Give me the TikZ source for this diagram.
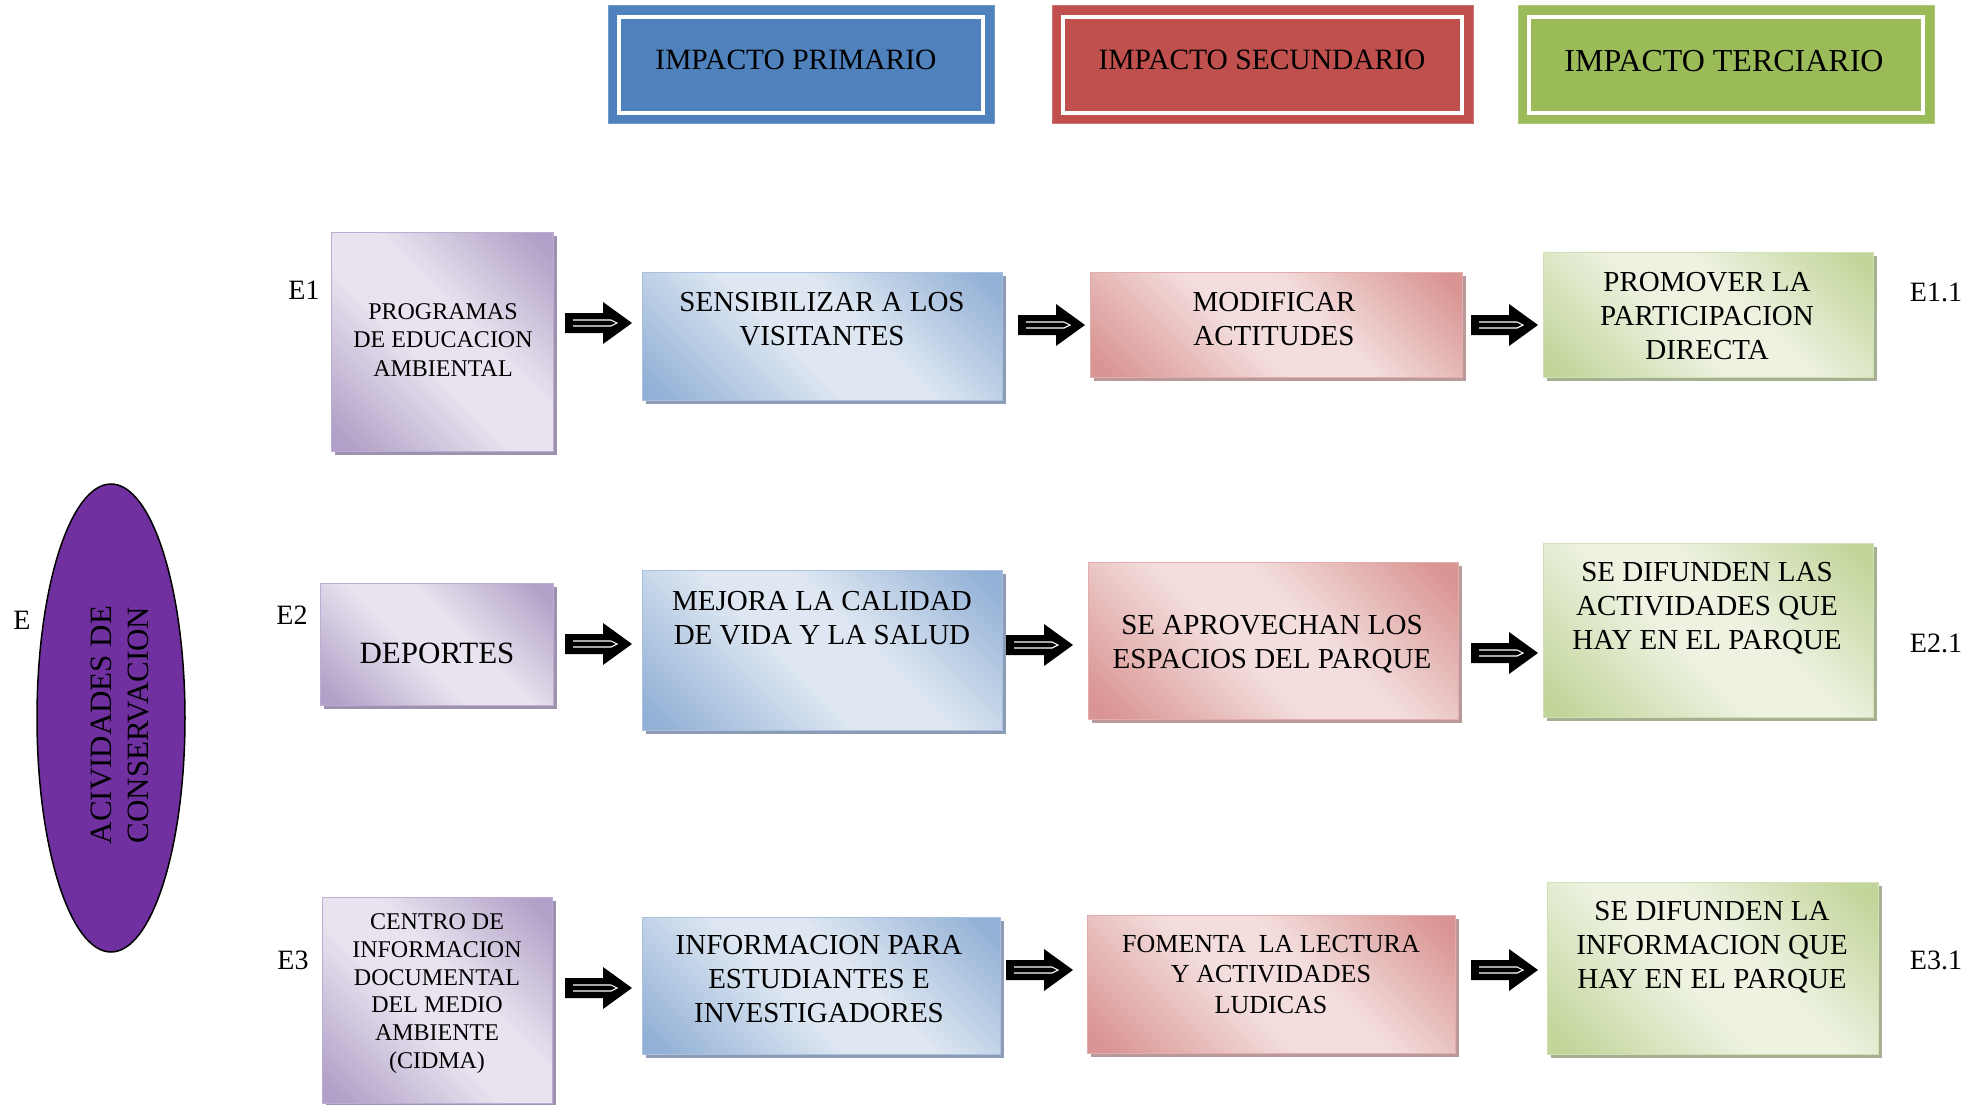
\documentclass[tikz,border=0pt]{standalone}
\usepackage{fontspec}
\setmainfont{Liberation Serif}
\usetikzlibrary{shapes.geometric,shadows}
\definecolor{hblue}{HTML}{4F81BD}
\definecolor{hred}{HTML}{C0504D}
\definecolor{hgreen}{HTML}{9BBB59}
\definecolor{ellcol}{HTML}{7030A0}
\definecolor{purD}{HTML}{B1A0C7}\definecolor{purL}{HTML}{E8E3EF}\definecolor{purB}{HTML}{BCAED2}\definecolor{purS}{HTML}{9D93AE}
\definecolor{bluD}{HTML}{93B1D6}\definecolor{bluL}{HTML}{DEE7F2}\definecolor{bluB}{HTML}{A9C0DE}\definecolor{bluS}{HTML}{8B9CB4}
\definecolor{redD}{HTML}{D99593}\definecolor{redL}{HTML}{F3DEDD}\definecolor{redB}{HTML}{E2ADAC}\definecolor{redS}{HTML}{B89A9A}
\definecolor{grnD}{HTML}{C2D59A}\definecolor{grnL}{HTML}{EDF2E1}\definecolor{grnB}{HTML}{D2E1B4}\definecolor{grnS}{HTML}{A6AF92}
\pgfdeclareverticalshading{purshade}{100bp}{color(0bp)=(purD); color(18bp)=(purD); color(44bp)=(purL); color(57bp)=(purL); color(82bp)=(purD); color(100bp)=(purD)}
\pgfdeclareverticalshading{blushade}{100bp}{color(0bp)=(bluD); color(18bp)=(bluD); color(44bp)=(bluL); color(57bp)=(bluL); color(82bp)=(bluD); color(100bp)=(bluD)}
\pgfdeclareverticalshading{redshade}{100bp}{color(0bp)=(redD); color(18bp)=(redD); color(44bp)=(redL); color(57bp)=(redL); color(82bp)=(redD); color(100bp)=(redD)}
\pgfdeclareverticalshading{grnshade}{100bp}{color(0bp)=(grnD); color(18bp)=(grnD); color(44bp)=(grnL); color(57bp)=(grnL); color(82bp)=(grnD); color(100bp)=(grnD)}
\newcommand{\mybox}[6]{%
  \node[#1, minimum width={#5-#3}, minimum height={#6-#4}] (#2) at ({(#3+#5)/2},{(#4+#6)/2}) {};}
\begin{document}
\begin{tikzpicture}[x=1pt,y=-1pt,
  colbox/.style={draw=#1B, line width=1, inner sep=0,
    shade, shading=#1shade, shading angle=-45,
    drop shadow={shadow xshift=4pt, shadow yshift=-4pt, fill=#1S, opacity=1}},
  hdr/.style={fill=#1, draw=#1!80!white, line width=1, inner sep=0},
  txt/.style={align=center, inner sep=0, text depth=0pt, font=\fontsize{29}{34}\selectfont},
  lab/.style={inner sep=0, text depth=0pt, font=\fontsize{28}{32}\selectfont},
  blk/.pic={
    \fill[black] (0,-10) -- (38,-10) -- (38,-21) -- (67,0) -- (38,21) -- (38,10) -- (0,10) -- cycle;
    \draw[white, line width=1.1] (8,-3) -- (46,-3) -- (52,0) -- (46,3) -- (8,3);
  }]
\useasboundingbox (0,0) rectangle (1988,1105);
\fill[white] (0,0) rectangle (1988,1105);

% headers
\mybox{hdr=hblue}{h1}{608}{6}{994}{124}
\mybox{hdr=hred}{h2}{1052}{6}{1473}{124}
\mybox{hdr=hgreen}{h3}{1518}{6}{1934}{124}
\foreach \h in {h1,h2,h3}{
  \draw[white, line width=4] ([shift={(11.5,11.5)}]\h.north west) rectangle ([shift={(-11.5,-11.5)}]\h.south east);
}
\node[txt, font=\fontsize{29.5}{34}\selectfont] (th1) at (796,60) {IMPACTO PRIMARIO};
\node[txt, font=\fontsize{29.5}{34}\selectfont] (th2) at (1262,60) {IMPACTO SECUNDARIO};
\node[txt, font=\fontsize{32}{36}\selectfont] (th3) at (1724,61) {IMPACTO TERCIARIO};

% ellipse
\node[ellipse, draw=black, line width=1.5, fill=ellcol, minimum width=148, minimum height=468, inner sep=0] (ell) at (111,718) {};
\node[txt, rotate=90, font=\fontsize{31}{37}\selectfont] (tell) at (120,725) {ACIVIDADES DE\\CONSERVACION};
\node[lab] (lE) at (22,620) {E};

% row 1
\mybox{colbox=pur}{p1}{331}{232}{553}{451}
\mybox{colbox=blu}{b1}{642}{272}{1002}{400}
\mybox{colbox=red}{r1}{1090}{272}{1462}{377}
\mybox{colbox=grn}{g1}{1543}{252}{1873}{377}
\node[txt, font=\fontsize{24}{28.5}\selectfont] (tp1) at (443,340) {PROGRAMAS\\DE EDUCACION\\AMBIENTAL};
\node[txt] (tb1) at (822,319) {SENSIBILIZAR A LOS\\VISITANTES};
\node[txt] (tr1) at (1274,319) {MODIFICAR\\ACTITUDES};
\node[txt] (tg1) at (1707,316) {PROMOVER LA\\PARTICIPACION\\DIRECTA};
\node[lab] (lE1) at (304,290) {E1};
\node[lab] (lE11) at (1936,292) {E1.1};
\pic (a11) at (565,323) {blk};
\pic (a12) at (1018,325) {blk};
\pic (a13) at (1471,325) {blk};

% row 2
\mybox{colbox=pur}{p2}{320}{583}{553}{705}
\mybox{colbox=blu}{b2}{642}{570}{1002}{730}
\mybox{colbox=red}{r2}{1088}{562}{1458}{719}
\mybox{colbox=grn}{g2}{1543}{543}{1873}{717}
\node[txt, font=\fontsize{31}{36}\selectfont] (tp2) at (437,653) {DEPORTES};
\node[txt] (tb2) at (822,618) {MEJORA LA CALIDAD\\DE VIDA Y LA SALUD};
\node[txt] (tr2) at (1272,642) {SE APROVECHAN LOS\\ESPACIOS DEL PARQUE};
\node[txt] (tg2) at (1707,606) {SE DIFUNDEN LAS\\ACTIVIDADES QUE\\HAY EN EL PARQUE};
\node[lab] (lE2) at (292,615) {E2};
\node[lab] (lE21) at (1936,643) {E2.1};
\pic (a21) at (565,644) {blk};
\pic (a22) at (1006,645) {blk};
\pic (a23) at (1471,653) {blk};

% row 3
\mybox{colbox=pur}{p3}{322}{897}{552}{1103}
\mybox{colbox=blu}{b3}{642}{917}{1000}{1054}
\mybox{colbox=red}{r3}{1087}{915}{1455}{1053}
\mybox{colbox=grn}{g3}{1547}{882}{1878}{1054}
\node[txt, font=\fontsize{24}{27.7}\selectfont] (tp3) at (437,991) {CENTRO DE\\INFORMACION\\DOCUMENTAL\\DEL MEDIO\\AMBIENTE\\(CIDMA)};
\node[txt] (tb3) at (819,979) {INFORMACION PARA\\ESTUDIANTES E\\INVESTIGADORES};
\node[txt, font=\fontsize{26}{30.5}\selectfont] (tr3) at (1271,974) {FOMENTA\ \ LA LECTURA\\Y ACTIVIDADES\\LUDICAS};
\node[txt] (tg3) at (1712,945) {SE DIFUNDEN LA\\INFORMACION QUE\\HAY EN EL PARQUE};
\node[lab] (lE3) at (293,960) {E3};
\node[lab] (lE31) at (1936,960) {E3.1};
\pic (a31) at (565,988) {blk};
\pic (a32) at (1006,970) {blk};
\pic (a33) at (1471,970) {blk};
\end{tikzpicture}
\end{document}
